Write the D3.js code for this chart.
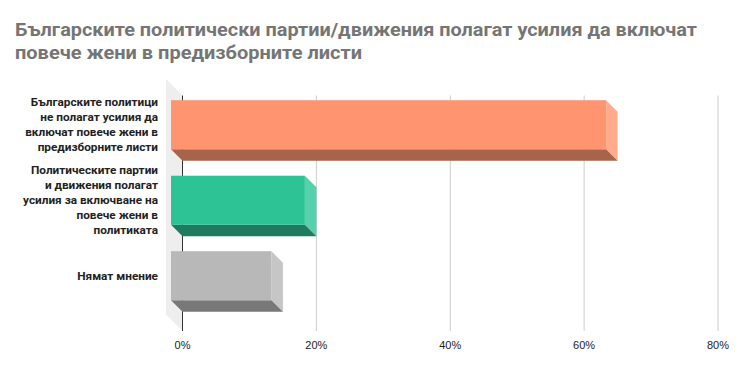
<!DOCTYPE html>
<html>
<head>
<meta charset="utf-8">
<script src="https://cdn.jsdelivr.net/npm/d3@7"></script>
<style>
  body { margin: 0; background: #fff; }
  svg { display: block; }
</style>
</head>
<body>
<div id="chart"></div>
<script>
var title = ["Българските политически партии/движения полагат усилия да включат",
             "повече жени в предизборните листи"];

var categories = [
    "Българските политици не полагат усилия да включат повече жени в предизборните листи",
    "Политическите партии и движения полагат усилия за включване на повече жени в политиката",
    "Нямат мнение"
];

var labelLines = [
    ["Българските политици", "не полагат усилия да", "включат повече жени в", "предизборните листи"],
    ["Политическите партии", "и движения полагат", "усилия за включване на", "повече жени в", "политиката"],
    ["Нямат мнение"]
];

var values = [65, 20, 15];
var tickValues = [0, 20, 40, 60, 80];

var frontColors = ["#ff9470", "#2ec394", "#b8b8b8"];
var sideColors = ["#ffab8c", "#56d1ab", "#c6c6c6"];
var bottomColors = ["#a6644b", "#1e7b5e", "#787878"];

var width = 737, height = 371;
var depth = 11.5, wallDepth = 16.5;
var plotTop = 95.5, plotBottom = 331;

var svg = d3.select("#chart").append("svg")
    .attr("width", width)
    .attr("height", height);

// title
svg.selectAll(".title")
    .data(title)
    .enter().append("text")
    .attr("class", "title")
    .attr("x", 15)
    .attr("y", function (d, i) { return 36 + i * 23; })
    .attr("textLength", function (d, i) { return i === 0 ? 682 : 347; })
    .attr("lengthAdjust", "spacingAndGlyphs")
    .style("font-family", "Roboto, sans-serif")
    .style("font-weight", "bold")
    .style("font-size", "18px")
    .style("fill", "#757575")
    .text(function (d) { return d; });

var x = d3.scaleLinear()
    .domain([0, 80])
    .range([182.5, 718]);

var y = d3.scaleBand()
    .domain(categories)
    .range([87, 313.5])
    .paddingInner(0.35)
    .paddingOuter(0.175);

// left wall
svg.append("polygon")
    .attr("points", [
        [x(0) - wallDepth, plotTop - wallDepth],
        [x(0), plotTop],
        [x(0), plotBottom],
        [x(0) - wallDepth, plotBottom - wallDepth]
    ].join(" "))
    .style("fill", "#eeeeee");

// gridlines
svg.selectAll(".grid")
    .data(tickValues.slice(1))
    .enter().append("line")
    .attr("class", "grid")
    .attr("x1", function (d) { return x(d); })
    .attr("x2", function (d) { return x(d); })
    .attr("y1", plotTop)
    .attr("y2", plotBottom)
    .style("stroke", "#cccccc")
    .style("stroke-width", 1);

svg.append("line")
    .attr("x1", x(0))
    .attr("x2", x(0))
    .attr("y1", plotTop)
    .attr("y2", plotBottom)
    .style("stroke", "#333333")
    .style("stroke-width", 1);

// x axis labels
svg.selectAll(".tick-label")
    .data(tickValues)
    .enter().append("text")
    .attr("class", "tick-label")
    .attr("x", function (d) { return x(d); })
    .attr("y", 349)
    .style("text-anchor", "middle")
    .style("font-family", "'Liberation Sans', Arial, sans-serif")
    .style("font-size", "11px")
    .style("fill", "#222")
    .text(function (d) { return d + "%"; });

// bars
var bar = svg.selectAll(".bar")
    .data(values)
    .enter().append("g")
    .attr("class", "bar");

bar.append("polygon")
    .attr("points", function (d, i) {
        var top = y(categories[i]), bottom = top + y.bandwidth();
        var xr = x(d) - depth;
        return [[xr, top], [xr + depth, top + depth], [xr + depth, bottom + depth], [xr, bottom]].join(" ");
    })
    .style("fill", function (d, i) { return sideColors[i]; });

bar.append("polygon")
    .attr("points", function (d, i) {
        var bottom = y(categories[i]) + y.bandwidth();
        var xl = x(0) - depth, xr = x(d) - depth;
        return [[xl, bottom], [xr, bottom], [xr + depth, bottom + depth], [xl + depth, bottom + depth]].join(" ");
    })
    .style("fill", function (d, i) { return bottomColors[i]; });

bar.append("rect")
    .attr("x", x(0) - depth)
    .attr("y", function (d, i) { return y(categories[i]); })
    .attr("width", function (d) { return x(d) - x(0); })
    .attr("height", y.bandwidth())
    .style("fill", function (d, i) { return frontColors[i]; });

// category labels
var label = svg.selectAll(".cat-label")
    .data(categories)
    .enter().append("text")
    .attr("class", "cat-label")
    .attr("x", 158)
    .attr("y", function (d, i) {
        var n = labelLines[i].length;
        return y(d) + y.bandwidth() / 2 - (n - 1) * 15 / 2 + 4;
    })
    .style("text-anchor", "end")
    .style("font-family", "Roboto, sans-serif")
    .style("font-weight", "bold")
    .style("font-size", "11.8px")
    .style("fill", "#222");

label.selectAll("tspan")
    .data(function (d, i) { return labelLines[i]; })
    .enter().append("tspan")
    .attr("x", 158)
    .attr("dy", function (d, i) { return i === 0 ? 0 : 15; })
    .text(function (d) { return d; });
</script>
</body>
</html>
